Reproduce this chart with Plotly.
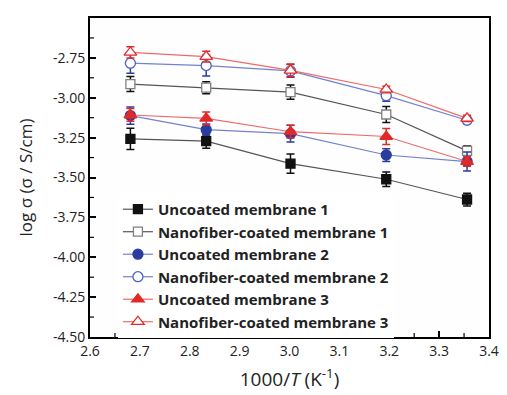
import plotly.graph_objects as go

x = [2.681, 2.833, 3.002, 3.194, 3.356]

names = ["Uncoated membrane 1", "Nanofiber-coated membrane 1",
         "Uncoated membrane 2", "Nanofiber-coated membrane 2",
         "Uncoated membrane 3", "Nanofiber-coated membrane 3"]

y_unc1 = [-3.258, -3.272, -3.413, -3.511, -3.638]
e_unc1 = [0.066, 0.044, 0.060, 0.046, 0.040]
y_nano1 = [-2.914, -2.937, -2.965, -3.105, -3.333]
e_nano1 = [0.047, 0.038, 0.045, 0.050, 0.030]
y_unc2 = [-3.112, -3.200, -3.225, -3.359, -3.400]
e_unc2 = [0.054, 0.035, 0.053, 0.040, 0.060]
y_nano2 = [-2.783, -2.798, -2.832, -2.987, -3.141]
e_nano2 = [0.064, 0.066, 0.040, 0.035, 0.020]
y_unc3 = [-3.108, -3.129, -3.213, -3.243, -3.400]
e_unc3 = [0.040, 0.040, 0.040, 0.050, 0.030]
y_nano3 = [-2.716, -2.742, -2.828, -2.948, -3.129]
e_nano3 = [0.035, 0.034, 0.040, 0.020, 0.020]

x_range = [2.6, 3.4]
y_range = [-4.5, -2.5]
x_ticks = [2.6, 2.7, 2.8, 2.9, 3.0, 3.1, 3.2, 3.3, 3.4]
x_ticklabels = ["2.6", "2.7", "2.8", "2.9", "3.0", "3.1", "3.2", "3.3", "3.4"]
y_ticks = [-2.5, -2.75, -3.0, -3.25, -3.5, -3.75, -4.0, -4.25, -4.5]
y_ticklabels = ["-2.50", "-2.75", "-3.00", "-3.25", "-3.50", "-3.75", "-4.00", "-4.25", "-4.50"]

ys = [y_unc1, y_nano1, y_unc2, y_nano2, y_unc3, y_nano3]
es = [e_unc1, e_nano1, e_unc2, e_nano2, e_unc3, e_nano3]

W, H = 499, 387
ML, MR, MT, MB = 82, 13, 8, 53
PW, PH = W - ML - MR, H - MT - MB
dx_per_px = (x_range[1] - x_range[0]) / PW
dy_per_px = (y_range[1] - y_range[0]) / PH

BLACK = "#111111"
BLUE = "#2a3d9e"
RED = "#e02a2a"
line_cols = ["#555555", "#555555", "#7282d0", "#7282d0", "#ee6a6a", "#ee6a6a"]
dark_cols = [BLACK, BLACK, BLUE, BLUE, RED, RED]
symbols = ["square", "square", "circle", "circle", "triangle-up", "triangle-up"]
marker_line = [BLACK, "#808080", BLUE, "#5060c0", RED, RED]
sizes = [9, 9, 10, 10, 11, 11]

fig = go.Figure()

# minor tick marks (inside) on the bottom and left axes
x_minor = [(a + b) / 2 for a, b in zip(x_ticks[:-1], x_ticks[1:])]
y_minor = [(a + b) / 2 for a, b in zip(y_ticks[:-1], y_ticks[1:])]
tx, ty = [], []
for v in x_minor:
    tx += [v, v, None]
    ty += [y_range[0], y_range[0] + 4 * dy_per_px, None]
for v in y_minor:
    tx += [x_range[0], x_range[0] + 4 * dx_per_px, None]
    ty += [v, v, None]
fig.add_trace(go.Scatter(x=tx, y=ty, mode="lines", line=dict(color="#000000", width=1.2),
                         showlegend=False, hoverinfo="skip"))

for i in range(6):
    fill = dark_cols[i] if i % 2 == 0 else "#ffffff"
    fig.add_trace(go.Scatter(
        x=x, y=ys[i], mode="lines+markers", name="<b>" + names[i] + "</b>",
        line=dict(color=line_cols[i], width=1.2),
        marker=dict(symbol=symbols[i], size=sizes[i], color=fill,
                    line=dict(color=marker_line[i], width=1.3)),
        error_y=dict(type="data", array=es[i], color=dark_cols[i], thickness=1.5, width=4),
    ))

fig.update_xaxes(
    range=x_range, tickvals=x_ticks, ticktext=x_ticklabels,
    showline=True, linecolor="#000000", linewidth=2, mirror=True,
    ticks="inside", ticklen=6, tickwidth=1.5, tickcolor="#000000",
    showgrid=False, zeroline=False,
    tickfont=dict(size=14),
    title=dict(text="1000/<i>T</i> (K<sup>-1</sup>)", standoff=14, font=dict(size=19)),
)
fig.update_yaxes(
    range=y_range, tickvals=y_ticks, ticktext=y_ticklabels,
    showline=True, linecolor="#000000", linewidth=2, mirror=True,
    ticks="inside", ticklen=6, tickwidth=1.5, tickcolor="#000000",
    showgrid=False, zeroline=False,
    tickfont=dict(size=14),
    title=dict(text="log σ (σ / S/cm)", standoff=16, font=dict(size=17)),
)

fig.update_layout(
    width=W, height=H,
    font=dict(color="#222222"),
    margin=dict(l=ML, r=MR, t=MT, b=MB),
    plot_bgcolor="#fefefe",
    legend=dict(x=0.07, y=0.4515, xanchor="left", yanchor="top",
                tracegroupgap=0, font=dict(size=15)),
)

fig.write_html("out.html")
